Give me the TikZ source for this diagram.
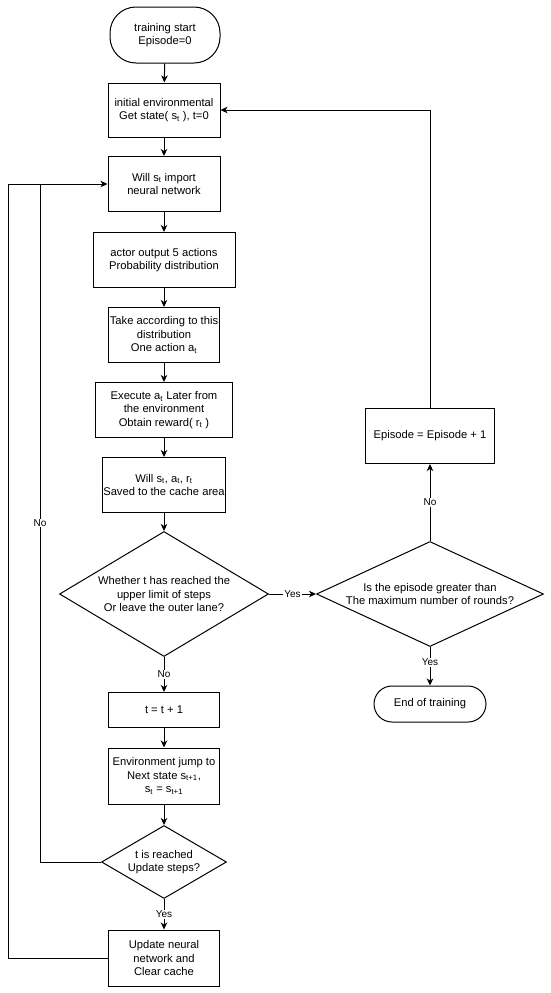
\documentclass[tikz,border=0pt]{standalone}
\usepackage{fontspec}
\setmainfont{Liberation Sans}
\usetikzlibrary{shapes.geometric,arrows.meta}
\begin{document}
\begin{tikzpicture}[x=1pt,y=-1pt,
  base/.style={draw=black,line width=1pt,align=center,inner sep=0pt,
    font=\fontsize{11.2}{13.4}\selectfont},
  box/.style={base,rectangle},
  term/.style={base,rectangle,rounded corners=#1},
  dia/.style={base,diamond},
  arr/.style={draw=black,line width=1pt,-{Stealth[length=7pt,width=6.5pt,inset=2pt]}},
  plain/.style={draw=black,line width=1pt},
  lab/.style={font=\fontsize{10}{12}\selectfont,fill=white,inner sep=1pt}
]
\path[use as bounding box] (0,0) rectangle (550,993);

\node[term=26pt,minimum width=110pt,minimum height=56pt] (start) at (165,35) {training start\\Episode=0};
\node[box,minimum width=112pt,minimum height=54pt] (init) at (164,110) {initial environmental\\Get state( s\textsubscript{t} ), t=0};
\node[box,minimum width=112pt,minimum height=55pt] (will) at (164,184) {Will s\textsubscript{t} import\\neural network};
\node[box,minimum width=142pt,minimum height=55pt] (actor) at (164,260) {actor output 5 actions\\Probability distribution};
\node[box,minimum width=111pt,minimum height=55pt] (take) at (164,335) {Take according to this\\distribution\\One action a\textsubscript{t}};
\node[box,minimum width=137pt,minimum height=55pt] (exec) at (164,410) {Execute a\textsubscript{t} Later from\\the environment\\Obtain reward( r\textsubscript{t} )};
\node[box,minimum width=123pt,minimum height=55pt] (save) at (164,485) {Will s\textsubscript{t}, a\textsubscript{t}, r\textsubscript{t}\\Saved to the cache area};
\node[dia,minimum width=209pt,minimum height=125pt,aspect=1.67] (d1) at (164,594) {Whether t has reached the\\upper limit of steps\\Or leave the outer lane?};
\node[box,minimum width=111pt,minimum height=35pt] (tinc) at (164,710) {t = t + 1};
\node[box,minimum width=111pt,minimum height=56pt] (env) at (164,776) {Environment jump to\\Next state s\textsubscript{t+1},\\s\textsubscript{t} = s\textsubscript{t+1}};
\node[dia,minimum width=125pt,minimum height=73pt,aspect=1.71] (d2) at (164,862) {t is reached\\Update steps?};
\node[box,minimum width=111pt,minimum height=56pt] (upd) at (164,958) {Update neural\\network and\\Clear cache};
\node[dia,minimum width=227pt,minimum height=105pt,aspect=2.16] (d3) at (430,594) {Is the episode greater than\\The maximum number of rounds?};
\node[box,minimum width=129pt,minimum height=55pt] (epi) at (430,436) {Episode = Episode + 1};
\node[term=18pt,minimum width=112pt,minimum height=36pt] (fin) at (430,704) {End of training};

\coordinate (lx) at (40,184);
\coordinate (ox) at (8,184);

\draw[arr] (start) -- (init);
\draw[arr] (init) -- (will);
\draw[arr] (will) -- (actor);
\draw[arr] (actor) -- (take);
\draw[arr] (take) -- (exec);
\draw[arr] (exec) -- (save);
\draw[arr] (save) -- (d1);
\draw[arr] (d1.south) -- node[lab]{No} (tinc.north);
\draw[arr] (tinc) -- (env);
\draw[arr] (env) -- (d2);
\draw[arr] (d2.south) -- node[lab]{Yes} (upd.north);
\draw[arr] (d1.east) -- node[lab]{Yes} (d3.west);
\draw[arr] (d3.south) -- node[lab,pos=0.4]{Yes} (fin.north);
\draw[arr] (d3.north) -- node[lab]{No} (epi.south);
\draw[arr] (epi.north) |- (init.east);
\draw[arr] (d2.west) -| (lx) -- (will.west);
\path (d2.west -| lx) -- node[lab]{No} (lx);
\draw[plain] (upd.west) -| (ox) -- (lx);
\end{tikzpicture}
\end{document}
